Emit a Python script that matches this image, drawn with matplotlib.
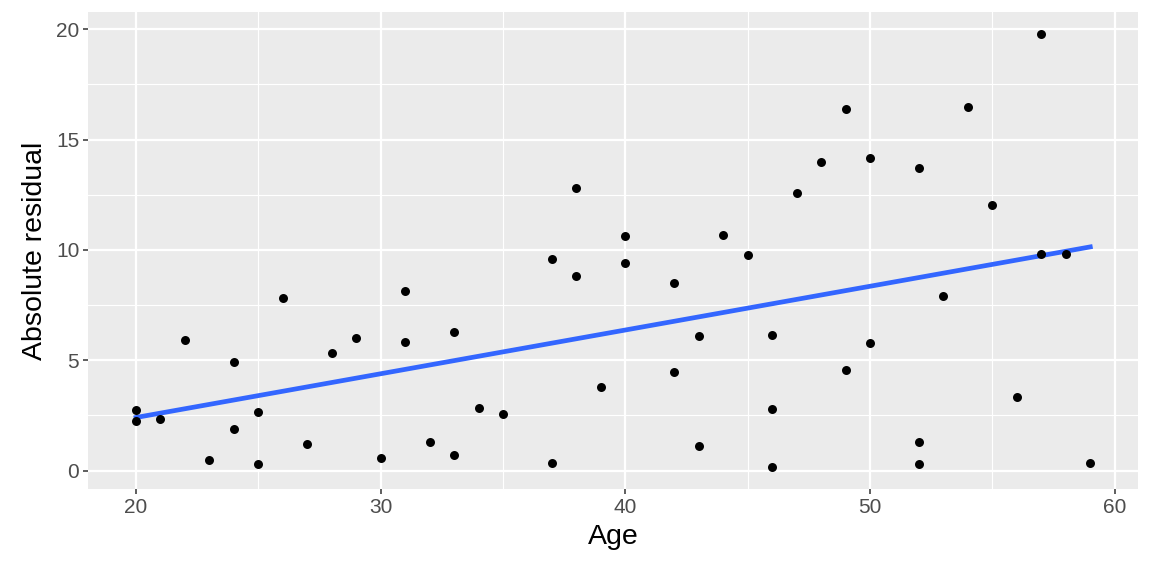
import numpy as np
import matplotlib.pyplot as plt

plt.rcParams['font.family'] = ['Liberation Sans', 'DejaVu Sans']

age = [20, 20, 21, 22, 23, 24, 24, 25, 25, 26, 27, 28, 29, 30, 31, 31, 32,
       33, 33, 34, 35, 37, 37, 38, 38, 39, 40, 40, 42, 42, 43, 43, 44, 45,
       46, 46, 46, 47, 48, 49, 49, 50, 50, 52, 52, 52, 53, 54, 55, 56, 57,
       57, 58, 59]
abs_resid = [2.75, 2.25, 2.35, 5.9, 0.5, 4.9, 1.9, 2.65, 0.3, 7.8, 1.2, 5.35,
             6.0, 0.55, 8.15, 5.85, 1.3, 6.3, 0.7, 2.85, 2.55, 9.6, 0.35,
             12.8, 8.8, 3.8, 10.65, 9.4, 8.5, 4.45, 6.1, 1.1, 10.7, 9.75,
             6.15, 2.8, 0.15, 12.6, 14.0, 16.4, 4.55, 14.15, 5.8, 13.7, 1.3,
             0.3, 7.9, 16.5, 12.05, 3.35, 19.8, 9.8, 9.8, 0.35]

x = np.array(age, dtype=float)
y = np.array(abs_resid)
slope, intercept = np.polyfit(x, y, 1)
xs = np.linspace(x.min(), x.max(), 80)

fig = plt.figure(figsize=(11.52, 5.76), dpi=100)
ax = fig.add_axes([88.3 / 1152, 1 - 489 / 576, (1138 - 88.3) / 1152, (489 - 12) / 576])
ax.set_facecolor('#EBEBEB')
for s in ax.spines.values():
    s.set_visible(False)

xr = x.max() - x.min()
yr = y.max() - y.min()
ax.set_xlim(x.min() - 0.05 * xr, x.max() + 0.05 * xr)
ax.set_ylim(y.min() - 0.05 * yr, y.max() + 0.05 * yr)

ax.set_xticks([20, 30, 40, 50, 60])
ax.set_yticks([0, 5, 10, 15, 20])
ax.set_xticks([25, 35, 45, 55], minor=True)
ax.set_yticks([2.5, 7.5, 12.5, 17.5], minor=True)
ax.grid(True, which='major', color='white', linewidth=1.6)
ax.grid(True, which='minor', color='white', linewidth=0.8)
ax.set_axisbelow(True)
ax.tick_params(which='major', length=3.5, width=1.1, color='#333333',
               labelsize=15, labelcolor='#4D4D4D', pad=3)
ax.tick_params(which='minor', length=0)

ax.scatter(x, y, s=42, color='black', zorder=3, linewidths=0)
ax.plot(xs, intercept + slope * xs, color='#3366FF', linewidth=3.4, zorder=2)

ax.set_xlabel('Age', fontsize=20.5, labelpad=5)
ax.set_ylabel('Absolute residual', fontsize=20.5, labelpad=6)

fig.savefig('out.png', dpi=100)
